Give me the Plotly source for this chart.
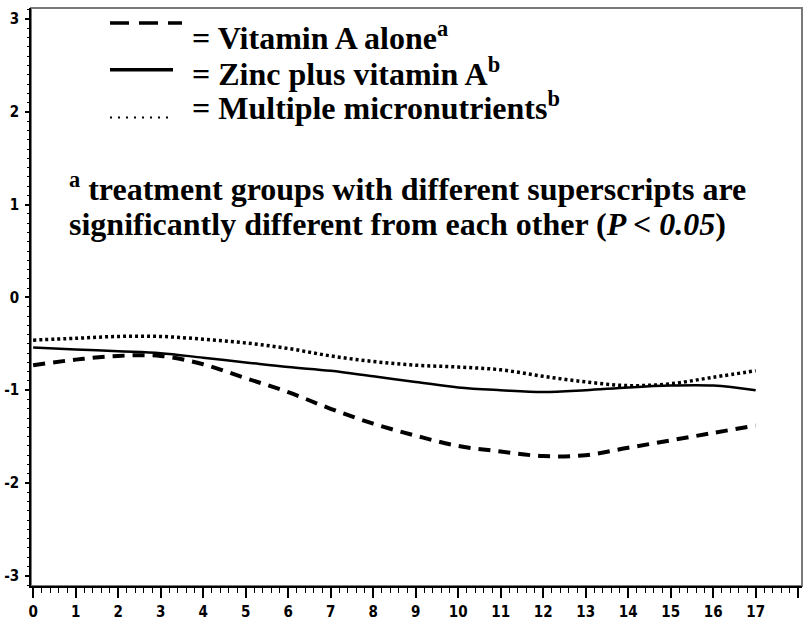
import plotly.graph_objects as go

months = list(range(0, 18))
vitamin_a_alone = [-0.73, -0.67, -0.63, -0.63, -0.72, -0.87, -1.02, -1.20, -1.36,
                   -1.49, -1.60, -1.66, -1.71, -1.70, -1.62, -1.54, -1.46, -1.38]
zinc_plus_vitamin_a = [-0.54, -0.56, -0.58, -0.60, -0.65, -0.70, -0.75, -0.79, -0.85,
                       -0.91, -0.97, -1.00, -1.02, -1.00, -0.97, -0.95, -0.95, -1.00]
multiple_micronutrients = [-0.46, -0.44, -0.42, -0.42, -0.45, -0.49, -0.55, -0.63, -0.69,
                           -0.73, -0.75, -0.78, -0.85, -0.91, -0.95, -0.93, -0.86, -0.79]

x_tickvals = list(range(0, 19))
x_ticktext = [str(v) for v in x_tickvals]
y_tickvals = [-3, -2, -1, 0, 1, 2, 3]
y_ticktext = ["-3", "-2", "-1", "0", "1", "2", "3"]

X_RANGE = [-0.05, 18.09]
Y_RANGE = [-3.11, 3.12]

fig = go.Figure()
fig.add_trace(go.Scatter(x=months, y=vitamin_a_alone, mode="lines",
                         line=dict(color="black", width=4, dash="12px,8px", shape="spline"),
                         showlegend=False))
fig.add_trace(go.Scatter(x=months, y=zinc_plus_vitamin_a, mode="lines",
                         line=dict(color="black", width=2.5, shape="spline"),
                         showlegend=False))
fig.add_trace(go.Scatter(x=months, y=multiple_micronutrients, mode="lines",
                         line=dict(color="black", width=3.5, dash="3px,3px", shape="spline"),
                         showlegend=False))

tick_font = dict(family="DejaVu Sans Condensed", size=15, color="black", weight="bold")

fig.update_layout(
    xaxis=dict(range=X_RANGE, tickvals=x_tickvals, ticktext=x_ticktext,
               ticks="outside", ticklen=10, tickwidth=1.5, tickcolor="black",
               showline=True, linecolor="black", linewidth=1.5, showgrid=False, zeroline=False,
               tickfont=tick_font, ticklabelstandoff=1, automargin=False,
               minor=dict(dtick=0.2, ticks="outside", ticklen=5, tickwidth=1, tickcolor="black")),
    yaxis=dict(range=Y_RANGE, tickvals=y_tickvals, ticktext=y_ticktext,
               ticks="outside", ticklen=4, tickwidth=1.5, tickcolor="black",
               showline=True, linecolor="black", linewidth=1.5, showgrid=False, zeroline=False,
               tickfont=tick_font, ticklabelstandoff=3, automargin=False,
               minor=dict(dtick=0.1, ticks="outside", ticklen=2, tickwidth=1, tickcolor="black")),
)

# gray frame around the plot box (left/bottom are covered by the black axis lines)
fig.add_shape(type="rect", xref="paper", yref="paper", x0=0, x1=1, y0=0, y1=1,
              line=dict(color="#7a7a7a", width=2), fillcolor="rgba(0,0,0,0)", layer="below")

# legend samples
def px(xp):
    return (xp - 31) / 771.0

def py(yp):
    return (588 - yp) / 581.0

fig.add_shape(type="line", xref="paper", yref="paper", x0=px(110), x1=px(182), y0=py(22), y1=py(22),
              line=dict(color="black", width=3.5, dash="19px,10px"))
fig.add_shape(type="line", xref="paper", yref="paper", x0=px(110), x1=px(173), y0=py(69), y1=py(69),
              line=dict(color="black", width=3.5))
fig.add_shape(type="line", xref="paper", yref="paper", x0=px(110), x1=px(170), y0=py(117), y1=py(117),
              line=dict(color="black", width=2, dash="2px,6px"))

txt_font = dict(family="Liberation Serif", size=32, color="black", weight="bold")
legend_lines = [
    ("<b>= Vitamin A alone<sup>a</sup></b>", 35),
    ("<b>= Zinc plus vitamin A<sup>b</sup></b>", 71),
    ("<b>= Multiple micronutrients<sup>b</sup></b>", 106),
]
for text, yy in legend_lines:
    fig.add_annotation(xref="paper", yref="paper", x=px(190), y=py(yy), text=text,
                       showarrow=False, xanchor="left", yanchor="middle", font=txt_font)

fig.add_annotation(xref="paper", yref="paper", x=px(67), y=py(187),
                   text="<b><sup>a</sup> treatment groups with different superscripts are</b>",
                   showarrow=False, xanchor="left", yanchor="middle", font=txt_font)
fig.add_annotation(xref="paper", yref="paper", x=px(67), y=py(224),
                   text="<b>significantly different from each other (<i>P &lt; 0.05</i>)</b>",
                   showarrow=False, xanchor="left", yanchor="middle", font=txt_font)

fig.update_layout(width=807, height=624, margin=dict(l=31, r=5, t=8, b=38),
                  plot_bgcolor="white", paper_bgcolor="white")

fig.write_html("out.html", config={"displayModeBar": False},
               post_script="document.body.style.margin='0';document.body.style.overflow='hidden';")
